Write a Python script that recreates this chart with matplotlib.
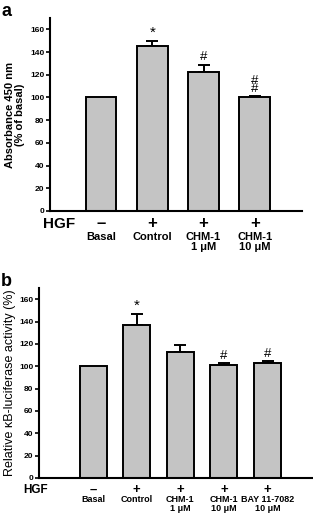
import matplotlib
matplotlib.use("Agg")
import matplotlib.pyplot as plt

plt.rcParams['font.family'] = ['Liberation Sans', 'DejaVu Sans']

# panel a
a_hgf = ['–', '+', '+', '+']
a_labels = ['Basal', 'Control', 'CHM-1\n1 μM', 'CHM-1\n10 μM']
a_values = [100, 145, 122, 100]
a_err = [0, 5, 7, 1]
a_marks = ['', '*', '#', '#\n#']

# panel b
b_hgf = ['–', '+', '+', '+', '+']
b_labels = ['Basal', 'Control', 'CHM-1\n1 μM', 'CHM-1\n10 μM', 'BAY 11-7082\n10 μM']
b_values = [100, 137, 112.5, 101, 102.5]
b_err = [0, 10, 6.5, 1.5, 2]
b_marks = ['', '*', '', '#', '#']

W, H = 313, 513
fig = plt.figure(figsize=(W / 100, H / 100), dpi=100)


def px_axes(l, t, r, b):
    return fig.add_axes([l / W, 1 - b / H, (r - l) / W, (b - t) / H])


def draw(ax, values, err, marks, hgf, labels, width, xlim, row_y, lab_size, hgf_size):
    x = list(range(len(values)))
    ax.bar(x, values, width=width, color='#c4c4c4', edgecolor='black', linewidth=1.4, zorder=2)
    for xi, v, e, m in zip(x, values, err, marks):
        if e > 0:
            ax.errorbar(xi, v, yerr=[[0], [e]], fmt='none', ecolor='black',
                        elinewidth=1.4, capsize=4, capthick=1.4, zorder=1)
        if m:
            ax.text(xi, v + e + 1, m, ha='center', va='bottom',
                    fontsize=11 if m == '*' else 9.5, linespacing=0.6)
    ax.set_xlim(*xlim)
    ax.set_ylim(0, 170)
    ax.set_yticks(range(0, 161, 20))
    ax.set_xticks([])
    for s in ['top', 'right']:
        ax.spines[s].set_visible(False)
    for s in ['left', 'bottom']:
        ax.spines[s].set_linewidth(1.5)
    ax.tick_params(axis='y', length=3, width=1.2, pad=1, labelsize=6)
    for t in ax.get_yticklabels():
        t.set_fontweight('bold')
    tr = ax.get_xaxis_transform()
    for xi, h, lab in zip(x, hgf, labels):
        ax.text(xi, row_y[0], h, transform=tr, ha='center', va='center',
                fontsize=hgf_size + 1, fontweight='bold')
        ax.text(xi, row_y[1], lab, transform=tr, ha='center', va='top',
                fontsize=lab_size, fontweight='bold', linespacing=1.0)
    ax.text(row_y[2], row_y[0], 'HGF', transform=ax.transAxes, ha='left', va='center',
            fontsize=hgf_size, fontweight='bold')


# panel a axes: x 50..302, y 18..211
ax_a = px_axes(50, 18, 302, 211)
draw(ax_a, a_values, a_err, a_marks, a_hgf, a_labels, 0.6, (-0.994, 3.92),
     (-13 / 193, -21 / 193, -7 / 252), 8, 11)
ax_a.set_ylabel('Absorbance 450 nm\n(% of basal)', fontsize=8, fontweight='bold', labelpad=4,
                linespacing=1.0)

# panel b axes: x 39..312, y 288..478
ax_b = px_axes(39, 288, 312, 478)
draw(ax_b, b_values, b_err, b_marks, b_hgf, b_labels, 0.62, (-1.24, 5.02),
     (-12 / 190, -17 / 190, -16 / 273), 6.5, 8.5)
ax_b.set_ylabel('Relative κB-luciferase activity (%)', fontsize=9, labelpad=2)

fig.text(1 / W, 1 - 12 / H, 'a', fontsize=13, fontweight='bold', va='center')
fig.text(1 / W, 1 - 281 / H, 'b', fontsize=13, fontweight='bold', va='center')

fig.savefig('out.png', dpi=100)
